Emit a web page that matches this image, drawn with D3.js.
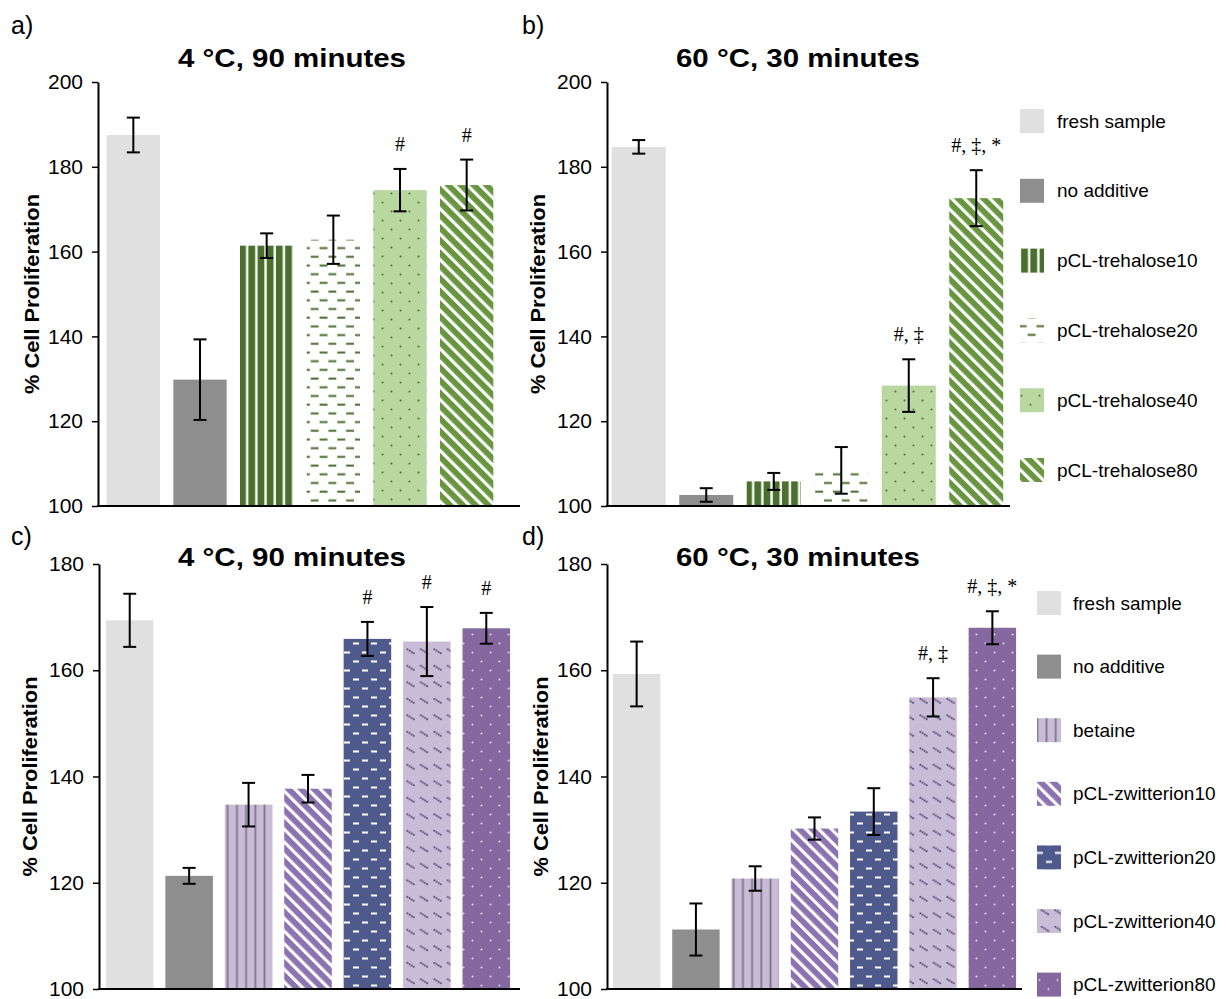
<!DOCTYPE html>
<html>
<head>
<meta charset="utf-8">
<script src="https://cdn.jsdelivr.net/npm/d3@7"></script>
<style>
  body { margin: 0; background: #fff; }
  svg { display: block; font-family: "Liberation Sans", Arial, sans-serif; }
</style>
</head>
<body>
<svg id="chart" width="1228" height="999"></svg>
<script>
// ---- data ----
const trehaloseGroups = ['fresh sample', 'no additive', 'pCL-trehalose10', 'pCL-trehalose20', 'pCL-trehalose40', 'pCL-trehalose80'];
const trehaloseColdMeans = [187.5, 129.8, 161.4, 162.8, 174.5, 175.7];
const trehaloseColdErrors = [4.1, 9.5, 2.9, 5.7, 5.0, 6.0];
const trehaloseColdMarks = ['', '', '', '', '#', '#'];
const trehaloseHotMeans = [184.7, 102.6, 105.8, 108.4, 128.4, 172.6];
const trehaloseHotErrors = [1.6, 1.6, 2.0, 5.5, 6.2, 6.6];
const trehaloseHotMarks = ['', '', '', '', '#, ‡', '#, ‡, *'];

const zwitterionGroups = ['fresh sample', 'no additive', 'betaine', 'pCL-zwitterion10', 'pCL-zwitterion20', 'pCL-zwitterion40', 'pCL-zwitterion80'];
const zwitterionColdMeans = [169.4, 121.3, 134.7, 137.7, 165.9, 165.4, 167.9];
const zwitterionColdErrors = [5.0, 1.5, 4.1, 2.6, 3.2, 6.5, 2.9];
const zwitterionColdMarks = ['', '', '', '', '#', '#', '#'];
const zwitterionHotMeans = [159.3, 111.2, 120.8, 130.2, 133.4, 154.9, 168.0];
const zwitterionHotErrors = [6.1, 4.9, 2.3, 2.1, 4.4, 3.6, 3.1];
const zwitterionHotMarks = ['', '', '', '', '', '#, ‡', '#, ‡, *'];

const topTicks = [100, 120, 140, 160, 180, 200];
const bottomTicks = [100, 120, 140, 160, 180];

// fill per group (pattern ids defined below)
const fills = {
  'fresh sample': '#e0e0e0',
  'no additive': '#8e8e8e',
  'pCL-trehalose10': 'url(#p-tre10)',
  'pCL-trehalose20': 'url(#p-tre20)',
  'pCL-trehalose40': 'url(#p-tre40)',
  'pCL-trehalose80': 'url(#p-tre80)',
  'betaine': 'url(#p-bet)',
  'pCL-zwitterion10': 'url(#p-zw10)',
  'pCL-zwitterion20': 'url(#p-zw20)',
  'pCL-zwitterion40': 'url(#p-zw40)',
  'pCL-zwitterion80': 'url(#p-zw80)'
};

const svg = d3.select('#chart');
const defs = svg.append('defs');

function pattern(id, w, h, bg, transform) {
  const p = defs.append('pattern')
    .attr('id', id)
    .attr('patternUnits', 'userSpaceOnUse')
    .attr('width', w)
    .attr('height', h);
  if (transform) p.attr('patternTransform', transform);
  p.append('rect').attr('width', w).attr('height', h).attr('fill', bg);
  return p;
}

// trehalose patterns
pattern('p-tre10', 9.2, 9.2, '#4b6f2f')
  .append('rect').attr('x', 6.7).attr('width', 2.5).attr('height', 9.2).attr('fill', '#f4f7f1');
const t20 = pattern('p-tre20', 17.7, 17.4, '#fff');
t20.append('rect').attr('x', 1).attr('y', 3.5).attr('width', 8).attr('height', 2).attr('fill', '#4b6f2f');
t20.append('rect').attr('x', 9.85).attr('y', 12.2).attr('width', 8).attr('height', 2).attr('fill', '#4b6f2f');
const t40 = pattern('p-tre40', 18, 18, '#b8d8a0');
t40.append('circle').attr('cx', 4.5).attr('cy', 4.5).attr('r', 1).attr('fill', '#4b6f2f');
t40.append('circle').attr('cx', 13.5).attr('cy', 13.5).attr('r', 1).attr('fill', '#4b6f2f');
pattern('p-tre80', 9, 9, '#67963f', 'rotate(-45)')
  .append('rect').attr('width', 3.2).attr('height', 9).attr('fill', '#fff');

// zwitterion patterns
pattern('p-bet', 9.2, 9.2, '#c9bcd7')
  .append('rect').attr('x', 6).attr('width', 1.8).attr('height', 9.2).attr('fill', '#80768c');
pattern('p-zw10', 9, 9, '#8c72b0', 'rotate(-45)')
  .append('rect').attr('width', 3.2).attr('height', 9).attr('fill', '#fff');
const z20 = pattern('p-zw20', 18, 18, '#4f5a8c');
z20.append('rect').attr('x', 2).attr('y', 3.5).attr('width', 6).attr('height', 2).attr('fill', '#fff');
z20.append('rect').attr('x', 11).attr('y', 12.5).attr('width', 6).attr('height', 2).attr('fill', '#fff');
const z40 = pattern('p-zw40', 13.5, 16.5, '#c9bcd7');
[[1.5, 5], [3.6, 6.3], [5.7, 7.6], [7.8, 8.9]].forEach(([x, y]) => {
  z40.append('rect').attr('x', x).attr('y', y).attr('width', 1.7).attr('height', 1.7).attr('fill', '#4b3f6c');
});
const z80 = pattern('p-zw80', 18, 18, '#85689f');
z80.append('circle').attr('cx', 4.5).attr('cy', 4.5).attr('r', 1).attr('fill', '#e2d9ec');
z80.append('circle').attr('cx', 13.5).attr('cy', 13.5).attr('r', 1).attr('fill', '#e2d9ec');

// ---- panels ----
function drawPanel(cfg) {
  const g = svg.append('g');
  const y = d3.scaleLinear().domain(cfg.domain).range([cfg.yBottom, cfg.yTop]);
  const x = d3.scaleBand().domain(cfg.groups).range(cfg.band).paddingInner(0.2).paddingOuter(0.1);

  const rows = cfg.groups.map((name, i) => ({ name, mean: cfg.means[i], err: cfg.errors[i], mark: cfg.marks[i] }));

  g.selectAll('rect.bar')
    .data(rows)
    .join('rect')
    .attr('class', 'bar')
    .attr('x', d => x(d.name))
    .attr('width', x.bandwidth())
    .attr('y', d => y(d.mean))
    .attr('height', d => y(cfg.domain[0]) - y(d.mean))
    .attr('fill', d => fills[d.name]);

  // error bars
  const eb = g.selectAll('g.err').data(rows).join('g').attr('class', 'err')
    .attr('transform', d => `translate(${x(d.name) + x.bandwidth() / 2},0)`);
  eb.append('line').attr('y1', d => y(d.mean + d.err)).attr('y2', d => y(d.mean - d.err));
  eb.append('line').attr('x1', -6.5).attr('x2', 6.5).attr('y1', d => y(d.mean + d.err)).attr('y2', d => y(d.mean + d.err));
  eb.append('line').attr('x1', -6.5).attr('x2', 6.5).attr('y1', d => y(d.mean - d.err)).attr('y2', d => y(d.mean - d.err));
  eb.selectAll('line').attr('stroke', '#000').attr('stroke-width', 2);

  // significance marks
  g.selectAll('text.mark')
    .data(rows.filter(d => d.mark))
    .join('text')
    .attr('class', 'mark')
    .attr('x', d => x(d.name) + x.bandwidth() / 2)
    .attr('y', d => y(d.mean + d.err) - 18)
    .attr('text-anchor', 'middle')
    .style('font-family', '"Liberation Serif", "Times New Roman", serif')
    .style('font-size', '20px')
    .text(d => d.mark);

  // y axis
  const axis = g.append('g')
    .attr('transform', `translate(${cfg.axisX},0)`)
    .call(d3.axisLeft(y).tickValues(cfg.ticks).tickSize(6).tickPadding(9).tickSizeOuter(0));
  axis.select('.domain').attr('stroke-width', 2);
  axis.selectAll('.tick line').attr('stroke-width', 1.5);
  axis.selectAll('.tick text')
    .style('font-family', '"Liberation Sans", Arial, sans-serif')
    .style('font-size', '21px')
    .attr('fill', '#000');

  // x baseline
  g.append('line')
    .attr('x1', cfg.axisX - 1).attr('x2', cfg.xEnd)
    .attr('y1', y(cfg.domain[0])).attr('y2', y(cfg.domain[0]))
    .attr('stroke', '#000').attr('stroke-width', 2);

  g.append('text')
    .attr('transform', `translate(${cfg.labelX},${(cfg.yTop + cfg.yBottom) / 2}) rotate(-90)`)
    .attr('text-anchor', 'middle')
    .attr('textLength', 200)
    .attr('lengthAdjust', 'spacingAndGlyphs')
    .style('font-size', '21px')
    .style('font-weight', 'bold')
    .text('% Cell Proliferation');

  g.append('text')
    .attr('x', cfg.titleX).attr('y', cfg.titleY)
    .attr('text-anchor', 'middle')
    .attr('textLength', cfg.titleWidth)
    .attr('lengthAdjust', 'spacingAndGlyphs')
    .style('font-size', '25px')
    .style('font-weight', 'bold')
    .text(cfg.title);

  g.append('text')
    .attr('x', cfg.letterX).attr('y', cfg.letterY)
    .style('font-size', '25px')
    .text(cfg.letter);
}

drawPanel({
  groups: trehaloseGroups, means: trehaloseColdMeans, errors: trehaloseColdErrors, marks: trehaloseColdMarks,
  domain: [100, 200], ticks: topTicks, yTop: 82, yBottom: 506,
  band: [100, 500], axisX: 98, xEnd: 520, labelX: 39,
  title: '4 °C, 90 minutes', titleX: 292, titleY: 67, titleWidth: 228,
  letter: 'a)', letterX: 11, letterY: 34
});
drawPanel({
  groups: trehaloseGroups, means: trehaloseHotMeans, errors: trehaloseHotErrors, marks: trehaloseHotMarks,
  domain: [100, 200], ticks: topTicks, yTop: 82, yBottom: 506,
  band: [605, 1010], axisX: 607, xEnd: 1010, labelX: 545,
  title: '60 °C, 30 minutes', titleX: 798, titleY: 67, titleWidth: 244,
  letter: 'b)', letterX: 522, letterY: 34
});
drawPanel({
  groups: zwitterionGroups, means: zwitterionColdMeans, errors: zwitterionColdErrors, marks: zwitterionColdMarks,
  domain: [100, 180], ticks: bottomTicks, yTop: 564, yBottom: 989,
  band: [100, 516], axisX: 99, xEnd: 520, labelX: 37,
  title: '4 °C, 90 minutes', titleX: 292, titleY: 566, titleWidth: 228,
  letter: 'c)', letterX: 11, letterY: 545
});
drawPanel({
  groups: zwitterionGroups, means: zwitterionHotMeans, errors: zwitterionHotErrors, marks: zwitterionHotMarks,
  domain: [100, 180], ticks: bottomTicks, yTop: 564, yBottom: 989,
  band: [607, 1022], axisX: 607, xEnd: 1022, labelX: 548,
  title: '60 °C, 30 minutes', titleX: 798, titleY: 566, titleWidth: 244,
  letter: 'd)', letterX: 522, letterY: 545
});

// ---- legends ----
function drawLegend(groups, swatchX, textX, y0, step) {
  const lg = svg.append('g');
  const item = lg.selectAll('g').data(groups).join('g')
    .attr('transform', (d, i) => `translate(0,${y0 + i * step})`);
  item.append('rect')
    .attr('x', swatchX).attr('y', -12).attr('width', 24).attr('height', 24)
    .attr('fill', d => fills[d]);
  item.append('text')
    .attr('x', textX).attr('y', 0).attr('dy', '0.35em')
    .style('font-size', '19px')
    .text(d => d);
}
drawLegend(trehaloseGroups, 1020, 1057, 121, 69.8);
drawLegend(zwitterionGroups, 1037, 1073, 603, 63.6);
</script>
</body>
</html>
